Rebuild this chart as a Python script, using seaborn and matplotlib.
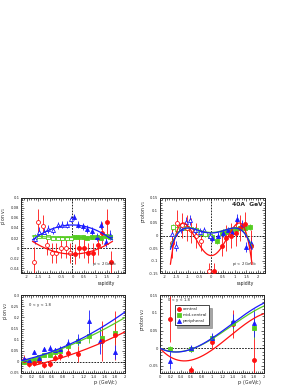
import numpy as np
import seaborn as sns
import matplotlib.pyplot as plt
from matplotlib.ticker import MultipleLocator, AutoMinorLocator, FuncFormatter

RED = "#ff1010"
GREEN = "#55cc22"
BLUE = "#1a1aff"

# ---------------- pion v1 vs rapidity ----------------
pv1_red_y = [0.1, 0.3, 0.5, 0.7, 0.9, 1.1, 1.3, 1.5, 1.7]
pv1_red_v = [-0.012, 0.0, 0.0, -0.01, -0.01, 0.007, 0.03, 0.052, -0.027]
pv1_red_e = [0.02, 0.02, 0.02, 0.02, 0.02, 0.02, 0.022, 0.025, 0.022]
pv1_red_yr = [-0.1, -0.3, -0.5, -0.7, -0.9, -1.1, -1.3, -1.5, -1.7]
pv1_red_vr = [-0.01, 0.0, 0.0, -0.01, -0.01, 0.007, 0.044, 0.052, -0.027]
pv1_red_er = [0.02, 0.02, 0.02, 0.02, 0.02, 0.02, 0.022, 0.025, 0.03]

pv1_grn_y = [0.05, 0.25, 0.45, 0.65, 0.85, 1.05, 1.25, 1.45, 1.65]
pv1_grn_v = [0.023, 0.022, 0.022, 0.021, 0.022, 0.022, 0.02, 0.024, 0.022]
pv1_grn_yr = [-0.05, -0.25, -0.45, -0.65, -0.85, -1.05, -1.25, -1.45, -1.65]
pv1_grn_vr = [0.021, 0.021, 0.021, 0.02, 0.021, 0.022, 0.024, 0.025, 0.023]
pv1_grn_e = [0.004] * 9

pv1_blu_y = [0.05, 0.25, 0.45, 0.65, 0.85, 1.05, 1.25, 1.45, 1.65]
pv1_blu_v = [0.061, 0.046, 0.043, 0.038, 0.034, 0.022, 0.045, 0.012, 0.026]
pv1_blu_yr = [-0.05, -0.25, -0.45, -0.65, -0.85, -1.05, -1.25, -1.45, -1.65]
pv1_blu_vr = [0.058, 0.046, 0.046, 0.045, 0.035, 0.038, 0.032, 0.032, 0.018]
pv1_blu_e = [0.006, 0.007, 0.007, 0.007, 0.007, 0.008, 0.008, 0.009, 0.01]

# fit coefficients (polynomial in y)
pv1_fit_red = [0.0083, 0.0, -0.012]
pv1_fit_grn = [0.001, 0.0, 0.021]
pv1_fit_blu = [-0.0097, 0.0, 0.046]

# ---------------- proton v1 vs rapidity ----------------
prv1_red_y = [0.1, 0.45, 0.65, 0.85, 1.05, 1.25, 1.45, 1.7]
prv1_red_v = [-0.14, -0.04, -0.01, 0.0, 0.01, 0.03, 0.045, -0.04]
prv1_red_e = [0.03, 0.04, 0.05, 0.05, 0.05, 0.05, 0.05, 0.06]
prv1_red_yr = [-0.1, -0.45, -0.65, -0.85, -1.05, -1.25, -1.45, -1.7]
prv1_red_vr = [-0.14, -0.02, 0.0, 0.02, 0.03, 0.04, 0.05, -0.03]

prv1_grn_y = [0.05, 0.25, 0.45, 0.65, 0.85, 1.05, 1.25, 1.45, 1.65]
prv1_grn_v = [-0.005, -0.02, 0.01, 0.015, 0.02, 0.025, 0.03, 0.03, 0.033]
prv1_grn_yr = [-0.05, -0.25, -0.45, -0.65, -0.85, -1.05, -1.25, -1.45, -1.65]
prv1_grn_vr = [0.0, 0.005, 0.01, 0.02, 0.025, 0.03, 0.03, 0.025, 0.035]
prv1_grn_e = [0.012] * 9

prv1_blu_y = [0.05, 0.3, 0.5, 0.7, 0.9, 1.1, 1.3, 1.5, 1.7]
prv1_blu_v = [-0.01, 0.0, 0.01, 0.02, 0.015, 0.065, 0.04, -0.045, -0.03]
prv1_blu_yr = [-0.05, -0.3, -0.5, -0.7, -0.9, -1.1, -1.3, -1.5, -1.7]
prv1_blu_vr = [0.0, 0.02, 0.015, 0.02, 0.06, 0.055, 0.03, -0.04, 0.007]
prv1_blu_e = [0.015, 0.015, 0.015, 0.015, 0.02, 0.02, 0.02, 0.02, 0.025]

prv1_fit_red = [-0.0627, 0.0, 0.1806, 0.0, -0.08]
prv1_fit_grn = [-0.018, 0.0, 0.036, 0.0, 0.012]
prv1_fit_blu = [-0.02, 0.0, 0.04, 0.0, 0.01]

# ---------------- pion v2 vs pt ----------------
pv2_red_pt = [0.05, 0.15, 0.25, 0.35, 0.45, 0.55, 0.65, 0.75, 0.9, 1.1, 1.55, 1.8]
pv2_red_v = [0.01, -0.012, -0.005, 0.005, -0.015, -0.008, 0.018, 0.025, 0.04, 0.035, 0.095, 0.12]
pv2_red_e = [0.02, 0.01, 0.012, 0.012, 0.014, 0.015, 0.016, 0.018, 0.02, 0.035, 0.09, 0.11]

pv2_grn_pt = [0.05, 0.15, 0.25, 0.35, 0.45, 0.55, 0.65, 0.75, 0.9, 1.1, 1.3, 1.55, 1.8]
pv2_grn_v = [0.0, 0.005, 0.01, 0.02, 0.03, 0.03, 0.045, 0.05, 0.07, 0.093, 0.115, 0.108, 0.13]
pv2_grn_e = [0.006, 0.006, 0.007, 0.008, 0.009, 0.01, 0.01, 0.012, 0.015, 0.02, 0.03, 0.04, 0.05]

pv2_blu_pt = [0.05, 0.15, 0.25, 0.35, 0.45, 0.55, 0.65, 0.75, 0.9, 1.1, 1.3, 1.52, 1.8]
pv2_blu_v = [0.012, 0.007, 0.045, 0.015, 0.058, 0.064, 0.052, 0.056, 0.086, 0.1, 0.182, 0.093, 0.044]
pv2_blu_e = [0.008, 0.008, 0.008, 0.009, 0.01, 0.01, 0.012, 0.014, 0.018, 0.025, 0.05, 0.06, 0.03]

pv2_fit_red = [0.0179, 0.0464, -0.029]
pv2_fit_grn = [0.02, 0.06, 0.0]
pv2_fit_blu = [0.029, 0.052, 0.005]

# ---------------- proton v2 vs pt ----------------
prv2_pt = [0.2, 0.6, 1.0, 1.4, 1.8]
prv2_red_v = [0.083, -0.062, 0.018, 0.068, -0.033]
prv2_red_e = [0.065, 0.012, 0.02, 0.04, 0.11]
prv2_grn_v = [-0.003, -0.002, 0.03, 0.072, 0.057]
prv2_grn_e = [0.01, 0.008, 0.01, 0.02, 0.03]
prv2_blu_v = [-0.035, 0.0, 0.03, 0.078, 0.072]
prv2_blu_e = [0.025, 0.01, 0.012, 0.02, 0.04]

prv2_fit_red = [-0.0529, 0.2129, -0.1652, 0.0]
prv2_fit_grn = [-0.0311, 0.1272, -0.0702, 0.0]
prv2_fit_blu = [-0.0332, 0.1356, -0.0744, 0.0]

MS = 2.5
FS = 2.7


def fmt(v, pos):
    s = f"{round(v, 4):g}"
    return "0" if s == "-0" else s


def style_axis(ax, xlim, ylim, xmaj, ymaj, xlabel, ylabel, xl_pos, yl_pos):
    ax.set_xlim(*xlim)
    ax.set_ylim(*ylim)
    ax.xaxis.set_major_locator(MultipleLocator(xmaj))
    ax.yaxis.set_major_locator(MultipleLocator(ymaj))
    ax.xaxis.set_minor_locator(AutoMinorLocator(5))
    ax.yaxis.set_minor_locator(AutoMinorLocator(5))
    ax.xaxis.set_major_formatter(FuncFormatter(fmt))
    ax.yaxis.set_major_formatter(FuncFormatter(fmt))
    ax.tick_params(which="both", direction="in", top=True, right=True,
                   labelsize=FS, width=0.5, pad=1.2)
    ax.tick_params(which="major", length=2.5)
    ax.tick_params(which="minor", length=1.3)
    for sp in ax.spines.values():
        sp.set_linewidth(0.7)
    ax.set_xlabel(xlabel, fontsize=FS + 0.6, loc="right")
    ax.set_ylabel(ylabel, fontsize=FS + 0.6, loc="top")
    ax.xaxis.set_label_coords(*xl_pos)
    ax.yaxis.set_label_coords(*yl_pos)
    ax.axhline(0, color="black", lw=0.6, ls=(0, (2, 1.5)), zorder=1)


def points(ax, x, y, e, color, marker, open_=False, label=None):
    ax.errorbar(x, y, yerr=e, fmt="none", ecolor=color, elinewidth=0.6, zorder=2)
    sns.scatterplot(x=x, y=y, ax=ax, marker=marker, s=MS ** 2 * 1.3,
                    color="white" if open_ else color, edgecolor=color,
                    linewidth=0.6, zorder=3, label=label, legend=False)


def curve(ax, coef, lo, hi, color):
    xs = np.linspace(lo, hi, 200)
    sns.lineplot(x=xs, y=np.polyval(coef, xs), ax=ax, color=color, lw=0.9, zorder=4)


sns.set_style("ticks")
fig = plt.figure(figsize=(3.0, 3.88), dpi=100)

# top-left: pion v1
ax = fig.add_axes([0.07, 0.296, 0.347, 0.194])
style_axis(ax, (-2.25, 2.3), (-0.05, 0.1), 0.5, 0.02, "rapidity", "pion v$_1$",
           (0.9, -0.1), (-0.125, 0.88))
ax.axvline(0, color="black", lw=0.6, ls=(0, (2, 1.5)), zorder=1)
points(ax, pv1_grn_y, pv1_grn_v, pv1_grn_e, GREEN, "s")
points(ax, pv1_grn_yr, pv1_grn_vr, pv1_grn_e, GREEN, "s", open_=True)
points(ax, pv1_blu_y, pv1_blu_v, pv1_blu_e, BLUE, "^")
points(ax, pv1_blu_yr, pv1_blu_vr, pv1_blu_e, BLUE, "^", open_=True)
points(ax, pv1_red_y, pv1_red_v, pv1_red_e, RED, "o")
points(ax, pv1_red_yr, pv1_red_vr, pv1_red_er, RED, "o", open_=True)
curve(ax, pv1_fit_red, -1.75, 1.75, RED)
curve(ax, pv1_fit_grn, -1.75, 1.75, GREEN)
curve(ax, pv1_fit_blu, -1.75, 1.75, BLUE)
ax.text(0.93, 0.07, "p$_t$ < 2 GeV/c", transform=ax.transAxes, fontsize=FS,
        ha="right", va="bottom")

# top-right: proton v1
ax = fig.add_axes([0.533, 0.296, 0.35, 0.194])
style_axis(ax, (-2.2, 2.3), (-0.15, 0.15), 0.5, 0.05, "rapidity", "proton v$_1$",
           (0.9, -0.1), (-0.115, 0.97))
ax.axvline(0, color="black", lw=0.6, ls=(0, (2, 1.5)), zorder=1)
points(ax, prv1_grn_y, prv1_grn_v, prv1_grn_e, GREEN, "s")
points(ax, prv1_grn_yr, prv1_grn_vr, prv1_grn_e, GREEN, "s", open_=True)
points(ax, prv1_blu_y, prv1_blu_v, prv1_blu_e, BLUE, "^")
points(ax, prv1_blu_yr, prv1_blu_vr, prv1_blu_e, BLUE, "^", open_=True)
points(ax, prv1_red_y, prv1_red_v, prv1_red_e, RED, "o")
points(ax, prv1_red_yr, prv1_red_vr, prv1_red_e, RED, "o", open_=True)
curve(ax, prv1_fit_red, -1.75, 1.75, RED)
curve(ax, prv1_fit_grn, -1.75, 1.75, GREEN)
curve(ax, prv1_fit_blu, -1.75, 1.75, BLUE)
ax.text(0.93, 0.07, "p$_t$ < 2 GeV/c", transform=ax.transAxes, fontsize=FS,
        ha="right", va="bottom")
ax.text(0.98, 0.94, "40A  GeV", transform=ax.transAxes, fontsize=FS + 1.6,
        ha="right", va="top", fontweight="bold")

# bottom-left: pion v2
ax = fig.add_axes([0.07, 0.039, 0.347, 0.2])
style_axis(ax, (0, 2), (-0.05, 0.3), 0.2, 0.05, "p$_t$ (GeV/c)", "pion v$_2$",
           (0.93, -0.07), (-0.105, 0.91))
points(ax, pv2_grn_pt, pv2_grn_v, pv2_grn_e, GREEN, "s")
points(ax, pv2_red_pt, pv2_red_v, pv2_red_e, RED, "o")
points(ax, pv2_blu_pt, pv2_blu_v, pv2_blu_e, BLUE, "^")
curve(ax, pv2_fit_red, 0.25, 2.0, RED)
curve(ax, pv2_fit_grn, 0.0, 2.0, GREEN)
curve(ax, pv2_fit_blu, 0.0, 2.0, BLUE)
ax.text(0.08, 0.9, "0 < y < 1.8", transform=ax.transAxes, fontsize=FS, ha="left", va="top")

# bottom-right: proton v2
ax = fig.add_axes([0.533, 0.039, 0.347, 0.2])
style_axis(ax, (0, 2), (-0.07, 0.15), 0.2, 0.05, "p$_t$ (GeV/c)", "proton v$_2$",
           (0.98, -0.06), (-0.125, 0.84))
points(ax, prv2_pt, prv2_red_v, prv2_red_e, RED, "o", label="central")
points(ax, prv2_pt, prv2_grn_v, prv2_grn_e, GREEN, "s", label="mid-central")
points(ax, prv2_pt, prv2_blu_v, prv2_blu_e, BLUE, "^", label="peripheral")
curve(ax, prv2_fit_red, 0.0, 2.0, RED)
curve(ax, prv2_fit_grn, 0.0, 2.0, GREEN)
curve(ax, prv2_fit_blu, 0.0, 2.0, BLUE)
ax.text(0.08, 0.97, "0 < y < 1.8", transform=ax.transAxes, fontsize=FS, ha="left", va="top")
handles, labels = ax.get_legend_handles_labels()
ax.legend(handles, labels, loc="upper left", bbox_to_anchor=(0.12, 0.9),
          fontsize=FS + 0.4, frameon=True, fancybox=False, shadow=True,
          edgecolor="black", borderpad=0.5, handletextpad=0.3, labelspacing=0.4,
          handlelength=1.0, markerscale=1.0).get_frame().set_linewidth(0.5)

fig.savefig("out.png", dpi=100)
